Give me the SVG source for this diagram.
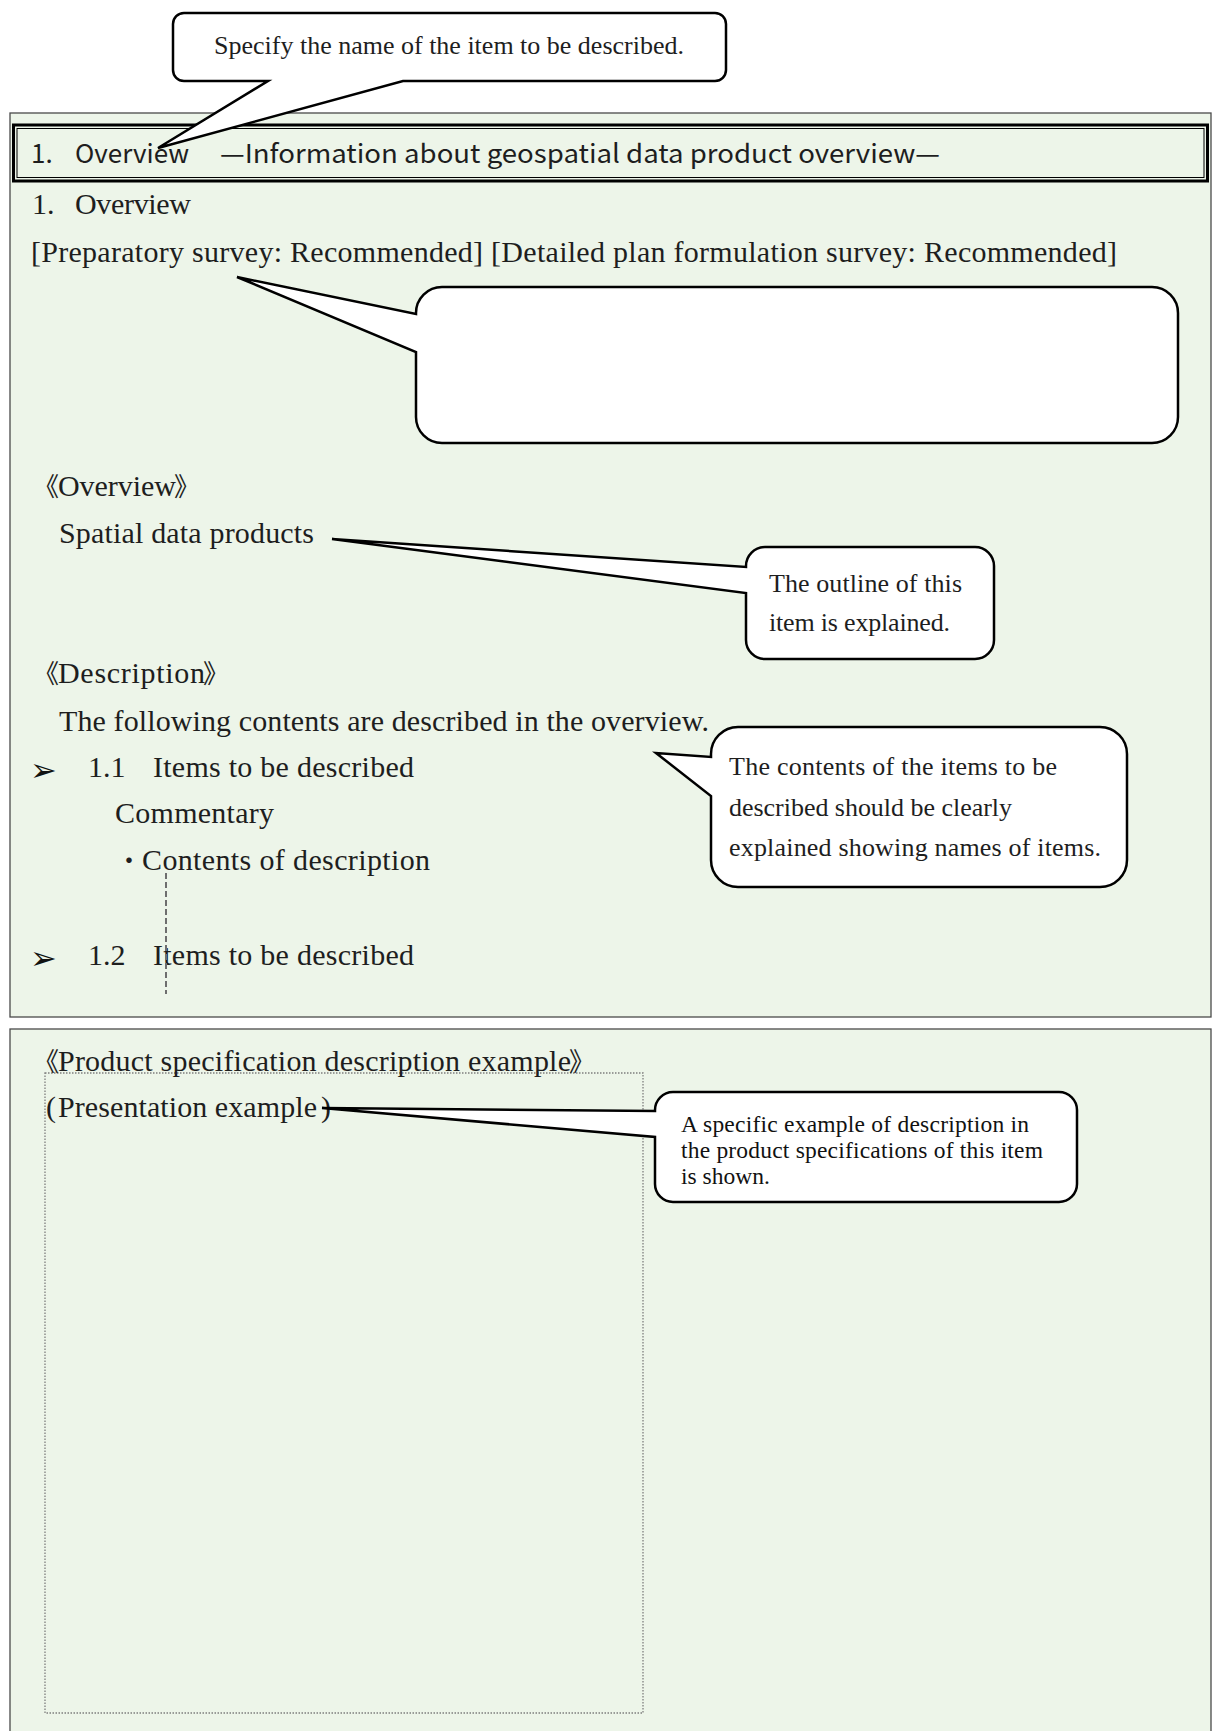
<svg xmlns="http://www.w3.org/2000/svg" width="1212" height="1731" viewBox="0 0 1212 1731">
  <style>
    .panel { fill: #edf5e9; stroke: #4a4a4a; stroke-width: 1.3; }
    .body { font-family: "Liberation Serif", "Noto Sans CJK JP", serif; font-size: 30px; fill: #1e1e1e; }
    .cjk { font-family: "Noto Sans CJK JP", "Liberation Serif", serif; font-size: 26px; fill: #1e1e1e; }
    .note { font-family: "Liberation Serif", serif; font-size: 26px; fill: #1e1e1e; }
    .note-sm { font-family: "Liberation Serif", serif; font-size: 23.5px; fill: #111; }
    .head { font-family: "Noto Sans CJK JP", "Noto Sans", sans-serif; font-size: 26px; fill: #1e1e1e; }
    .bullet { font-family: "DejaVu Sans", sans-serif; font-size: 32px; fill: #111; }
    .callout { fill: #ffffff; stroke: #000; stroke-width: 2.5; stroke-linejoin: miter; }
    .guide { stroke: #6e6e6e; stroke-width: 2; stroke-dasharray: 6 3; fill: none; }
    .sample-frame { fill: none; stroke: #7e7e7e; stroke-width: 1.3; stroke-dasharray: 1.5 1.5; }
  </style>

  <rect width="1212" height="1731" fill="#ffffff"/>

  <!-- Section 1 panel -->
  <g id="panel-overview">
    <rect class="panel" x="10" y="113" width="1201" height="904"/>
  </g>

  <!-- Heading bar with thick-thin double border -->
  <g id="heading">
    <rect x="13.5" y="125" width="1194" height="56" fill="none" stroke="#000" stroke-width="3"/>
    <rect x="17" y="128.5" width="1187" height="49" fill="none" stroke="#000" stroke-width="1"/>
    <text class="head" y="163"><tspan x="31">1.</tspan><tspan x="75">Overview</tspan><tspan x="220" textLength="720" lengthAdjust="spacingAndGlyphs">—Information about geospatial data product overview—</tspan></text>
  </g>

  <!-- Section 1 body text -->
  <g id="overview-text">
    <text class="body" y="214"><tspan x="32">1.</tspan><tspan x="75" textLength="116">Overview</tspan></text>
    <text class="body" x="31" y="262" textLength="1086">[Preparatory survey: Recommended] [Detailed plan formulation survey: Recommended]</text>
    <text class="body" y="496"><tspan class="cjk" x="33">《</tspan><tspan x="58" textLength="118">Overview</tspan><tspan class="cjk" x="174">》</tspan></text>
    <text class="body" x="59" y="543" textLength="255">Spatial data products</text>
    <text class="body" y="683"><tspan class="cjk" x="33">《</tspan><tspan x="58" textLength="147">Description</tspan><tspan class="cjk" x="203">》</tspan></text>
    <text class="body" x="59" y="731" textLength="650">The following contents are described in the overview.</text>
  </g>

  <g id="item-1-1">
    <text class="bullet" x="30" y="781">➢</text>
    <text class="body" x="88" y="777">1.1</text>
    <text class="body" x="153" y="777" textLength="261">Items to be described</text>
    <text class="body" x="115" y="823" textLength="159">Commentary</text>
    <text class="body" y="870"><tspan class="cjk" x="116">・</tspan><tspan x="142" textLength="288">Contents of description</tspan></text>
  </g>

  <g id="item-1-2">
    <text class="bullet" x="30" y="969">➢</text>
    <text class="body" x="88" y="965">1.2</text>
    <text class="body" x="153" y="965" textLength="261">Items to be described</text>
  </g>

  <!-- Section 2 panel: specification example -->
  <g id="panel-example">
    <rect class="panel" x="10" y="1029" width="1201" height="720"/>
    <rect class="sample-frame" x="45" y="1073" width="598" height="640"/>
    <text class="body" y="1071"><tspan class="cjk" x="33">《</tspan><tspan x="58" textLength="513">Product specification description example</tspan><tspan class="cjk" x="569">》</tspan></text>
    <text class="body" y="1117"><tspan x="46">(</tspan><tspan x="58" textLength="259">Presentation example</tspan><tspan x="321">)</tspan></text>
  </g>

  <!-- Dashed guide line -->
  <g id="connectors">
    <line class="guide" x1="166" y1="873" x2="166" y2="994"/>
  </g>

  <!-- Callouts -->
  <g id="callout-item-name">
    <path class="callout" d="M184,13 H715 A11,11 0 0 1 726,24 V70 A11,11 0 0 1 715,81 H403 L158,148 L268,81 H184 A11,11 0 0 1 173,70 V24 A11,11 0 0 1 184,13 Z"/>
    <text class="note" x="449" y="54" text-anchor="middle" font-size="25">Specify the name of the item to be described.</text>
  </g>

  <g id="callout-requirement">
    <path class="callout" d="M442,287 H1152 A26,26 0 0 1 1178,313 V417 A26,26 0 0 1 1152,443 H442 A26,26 0 0 1 416,417 V352 L237,277 L416,314 V313 A26,26 0 0 1 442,287 Z"/>
  </g>

  <g id="callout-outline">
    <path class="callout" d="M765,547 H975 A19,19 0 0 1 994,566 V640 A19,19 0 0 1 975,659 H765 A19,19 0 0 1 746,640 V593 L332,539 L746,567 V566 A19,19 0 0 1 765,547 Z"/>
    <text class="note" x="769" y="592" textLength="193">The outline of this</text>
    <text class="note" x="769" y="631" textLength="181">item is explained.</text>
  </g>

  <g id="callout-contents">
    <path class="callout" d="M738,727 H1100 A27,27 0 0 1 1127,754 V860 A27,27 0 0 1 1100,887 H738 A27,27 0 0 1 711,860 V796 L656,753 L711,757 V754 A27,27 0 0 1 738,727 Z"/>
    <text class="note" x="729" y="775" textLength="328">The contents of the items to be</text>
    <text class="note" x="729" y="816" textLength="283">described should be clearly</text>
    <text class="note" x="729" y="856" textLength="372">explained showing names of items.</text>
  </g>

  <g id="callout-example">
    <path class="callout" d="M673,1092 H1059 A18,18 0 0 1 1077,1110 V1184 A18,18 0 0 1 1059,1202 H673 A18,18 0 0 1 655,1184 V1137 L322,1108 L655,1111 V1110 A18,18 0 0 1 673,1092 Z"/>
    <text class="note-sm" x="681" y="1132" textLength="348">A specific example of description in</text>
    <text class="note-sm" x="681" y="1158" textLength="362">the product specifications of this item</text>
    <text class="note-sm" x="681" y="1184">is shown.</text>
  </g>
</svg>
